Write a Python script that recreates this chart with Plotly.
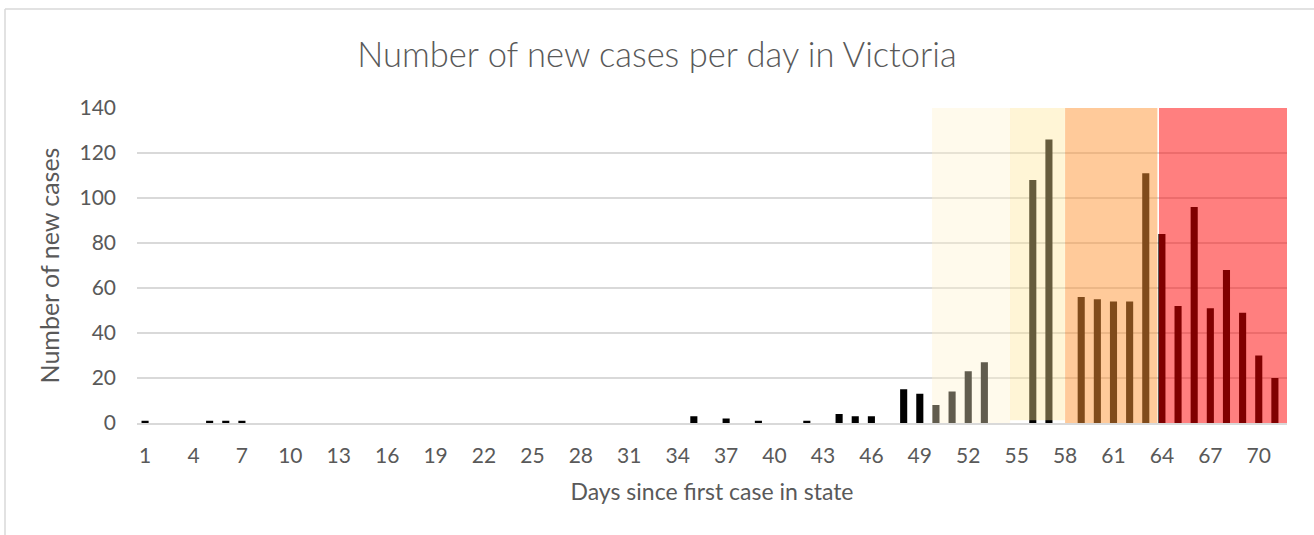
import plotly.graph_objects as go

# Data
days = list(range(1, 72))
cases_by_day = {
    1: 1, 5: 1, 6: 1, 7: 1, 35: 3, 37: 2, 39: 1, 42: 1, 44: 4, 45: 3, 46: 3,
    48: 15, 49: 13, 50: 8, 51: 14, 52: 23, 53: 27, 56: 108, 57: 126,
    59: 56, 60: 55, 61: 54, 62: 54, 63: 111, 64: 84, 65: 52, 66: 96,
    67: 51, 68: 68, 69: 49, 70: 30, 71: 20,
}
new_cases = [cases_by_day.get(d, 0) for d in days]
tick_days = list(range(1, 72, 3))
tick_labels = [str(d) for d in tick_days]

# Highlight bands (day ranges)
band_starts = [49.76, 54.59, 58.0, 63.82]
band_ends = [54.59, 57.99, 63.72, 71.75]
band_bottoms = [0, 1.2, 0, 0]
band_colors = ["rgba(255,242,204,0.38)", "rgba(255,230,153,0.40)",
               "rgba(255,149,53,0.50)", "rgba(255,0,0,0.50)"]

text_color = "#595959"
grid_color = "#D9D9D9"
font_family = "Lato, Open Sans, sans-serif"

fig = go.Figure()
fig.add_trace(go.Bar(
    x=days, y=new_cases, width=0.44,
    marker=dict(color="#000000", line=dict(width=0)),
    showlegend=False, hoverinfo="x+y",
))

shapes = []
for x0, x1, y0, c in zip(band_starts, band_ends, band_bottoms, band_colors):
    shapes.append(dict(type="rect", xref="x", yref="y", x0=x0, x1=x1, y0=y0, y1=140,
                       fillcolor=c, line=dict(width=0), layer="above"))

# chart border (outer frame)
L, R, T, B = 137, 1287, 108, 423
def px_x(p):
    return (p - L) / (R - L)
def px_y(p):
    return (B - p) / (B - T)
shapes.append(dict(type="line", xref="paper", yref="paper",
                   x0=px_x(5), x1=px_x(1314), y0=px_y(9), y1=px_y(9),
                   line=dict(color=grid_color, width=1.5)))
shapes.append(dict(type="line", xref="paper", yref="paper",
                   x0=px_x(5), x1=px_x(5), y0=px_y(9), y1=px_y(535),
                   line=dict(color=grid_color, width=1.5)))

fig.update_layout(
    width=1314, height=535,
    margin=dict(l=L, r=1314 - R, t=T, b=535 - B),
    paper_bgcolor="white", plot_bgcolor="white",
    font=dict(family=font_family, color=text_color, size=21),
    title=dict(text="Number of new cases per day in Victoria",
               x=0.5, xref="container", xanchor="center",
               y=1 - 55 / 535, yref="container", yanchor="middle",
               font=dict(size=34.5, color=text_color, family=font_family, weight=300)),
    shapes=shapes,
    bargap=0.56,
)
fig.update_xaxes(
    range=[0.5, 71.75], tickmode="array", tickvals=tick_days, ticktext=tick_labels,
    showgrid=False, showline=True, linecolor=grid_color, linewidth=1.5,
    ticks="", ticklabelstandoff=13,
    tickfont=dict(size=21, color=text_color),
    title=dict(text="Days since first case in state", standoff=18,
               font=dict(size=23, color=text_color)),
    zeroline=False,
)
fig.update_yaxes(
    range=[0, 140], tickmode="array", tickvals=list(range(0, 141, 20)),
    showgrid=True, gridcolor=grid_color, gridwidth=1.5,
    showline=False, zeroline=False, ticks="", ticklabelstandoff=20,
    tickfont=dict(size=21, color=text_color),
    title=dict(text="Number of new cases", standoff=12,
               font=dict(size=25, color=text_color)),
)

fig.write_html("out.html", config={"displayModeBar": False},
               post_script="document.body.style.margin='0';")
